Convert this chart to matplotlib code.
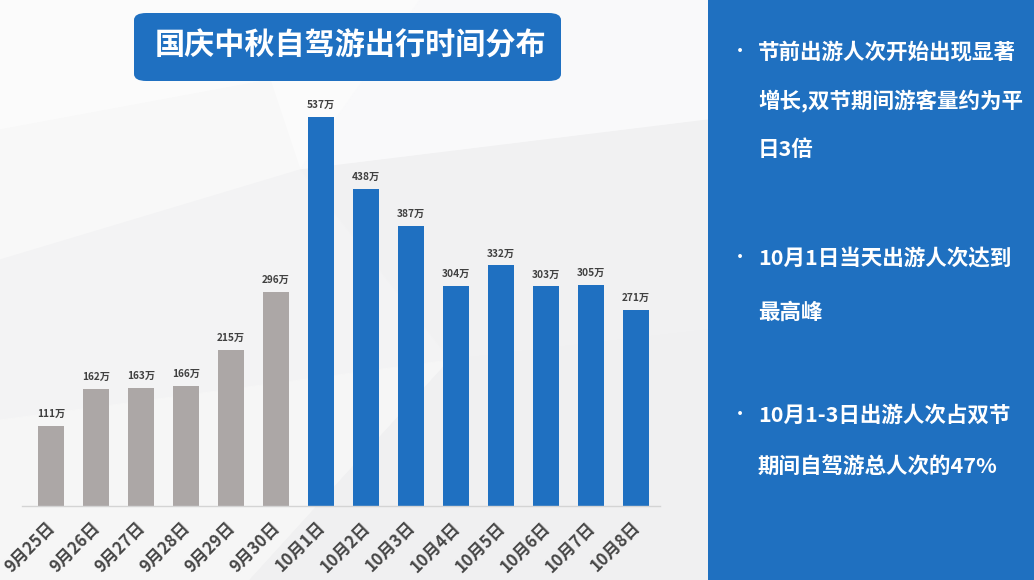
import matplotlib
matplotlib.use('Agg')
import matplotlib.pyplot as plt
import matplotlib.transforms as mtrans
from matplotlib.patches import FancyBboxPatch, Polygon, Rectangle

plt.rcParams['font.family'] = ['Noto Sans CJK SC', 'DejaVu Sans']

# 数据
dates = ["9月25日", "9月26日", "9月27日", "9月28日", "9月29日", "9月30日",
         "10月1日", "10月2日", "10月3日", "10月4日", "10月5日", "10月6日",
         "10月7日", "10月8日"]
trips = [111, 162, 163, 166, 215, 296, 537, 438, 387, 304, 332, 303, 305, 271]
title = "国庆中秋自驾游出行时间分布"
notes = [
    ["节前出游人次开始出现显著", "增长,双节期间游客量约为平", "日3倍"],
    ["10月1日当天出游人次达到", "最高峰"],
    ["10月1-3日出游人次占双节", "期间自驾游总人次的47%"],
]

GRAY = '#aca7a6'
BLUE = '#1f70c1'
bar_colors = [GRAY if d.startswith("9月") else BLUE for d in dates]

W, H = 1034, 580
fig = plt.figure(figsize=(W / 100, H / 100), dpi=100)
fig.patch.set_facecolor('#f4f4f5')

# 背景的浅灰多边形纹理
def px(x, y):
    return (x / W, 1 - y / H)

polys = [
    ([(0, 0), (420, 0), (300, 170), (0, 260)], '#fbfbfb'),
    ([(0, 260), (300, 170), (270, 80), (0, 130)], '#f8f8f8'),
    ([(300, 170), (420, 0), (708, 0), (708, 120)], '#f9f9fa'),
    ([(300, 170), (708, 120), (708, 330), (450, 360)], '#f1f1f2'),
    ([(0, 260), (300, 170), (450, 360), (0, 420)], '#f3f3f4'),
    ([(0, 420), (450, 360), (250, 580), (0, 580)], '#f6f6f6'),
    ([(450, 360), (708, 330), (708, 580), (250, 580)], '#f0f0f1'),
]
for verts, c in polys:
    fig.patches.append(Polygon([px(*v) for v in verts], closed=True,
                               transform=fig.transFigure, facecolor=c,
                               edgecolor=c, linewidth=0.8, zorder=0))

# 右侧蓝色面板
fig.patches.append(Rectangle(px(708, 580), (W - 708) / W, 1, transform=fig.transFigure,
                             facecolor='#1f70c0', edgecolor='none', zorder=1))

# 标题框
fig.patches.append(FancyBboxPatch(px(134, 81), (561 - 134) / W, (81 - 13) / H,
                                  boxstyle="round,pad=0,rounding_size=0.012",
                                  transform=fig.transFigure, facecolor=BLUE,
                                  edgecolor='none', zorder=2))
fig.text(*px(350, 46), title, ha='center', va='center', fontsize=21.7,
         fontweight='bold', color='white', zorder=3)

# 柱状图
ax = fig.add_axes([22 / W, 1 - 506 / H, (660 - 22) / W, (506 - 80) / H])
ax.set_zorder(5)
ax.patch.set_alpha(0)
x = list(range(len(dates)))
bars = ax.bar(x, trips, color=bar_colors, width=0.58, zorder=2)
ax.set_xlim(-0.644, 13.53)
ax.set_ylim(0, 588)
for b, v in zip(bars, trips):
    ax.annotate(f"{v}万", (b.get_x() + b.get_width() / 2, v), xytext=(0, 5),
                textcoords='offset points', ha='center', va='bottom',
                fontsize=7.3, fontweight='bold', color='#404040')

for s in ['top', 'right', 'left']:
    ax.spines[s].set_visible(False)
ax.spines['bottom'].set_color('#d4d4d4')
ax.spines['bottom'].set_linewidth(1.0)
ax.set_yticks([])
ax.set_xticks(x)
ax.set_xticklabels(dates, rotation=45, ha='right', va='top', rotation_mode='anchor',
                   fontsize=12, fontweight='bold', color='#474747')
ax.tick_params(axis='x', length=0, pad=4)
for lab in ax.get_xticklabels():
    lab.set_transform(lab.get_transform() + mtrans.ScaledTranslation(-0.045, -0.07, fig.dpi_scale_trans))

# 右侧说明文字
line_y = [[52, 101, 150], [258, 312], [415, 466]]
for block, ys in zip(notes, line_y):
    fig.text(*px(731, ys[0]), "•", ha='left', va='center', fontsize=13,
             color='white', zorder=3)
    for txt, y in zip(block, ys):
        fig.text(*px(758, y), txt, ha='left', va='center', fontsize=15.5,
                 fontweight='bold', color='white', zorder=3)

fig.savefig("out.png", dpi=100, facecolor=fig.get_facecolor())
